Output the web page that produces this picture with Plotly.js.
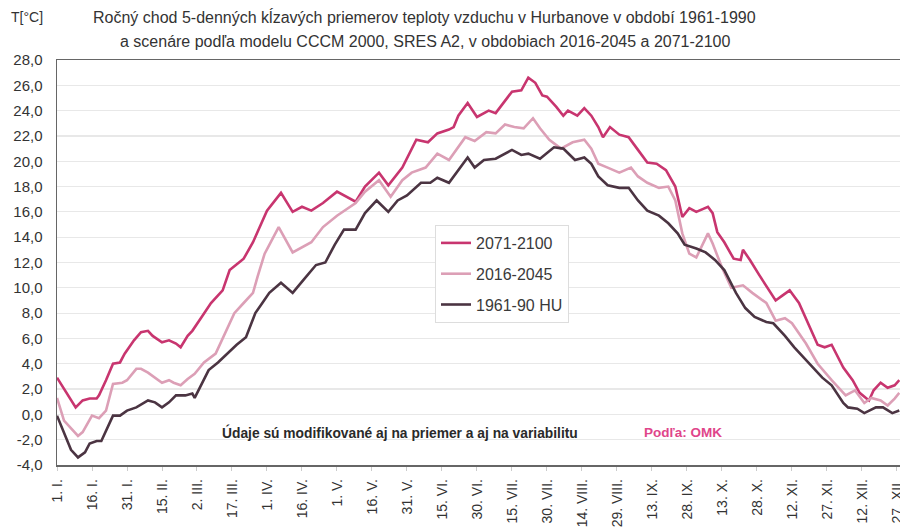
<!DOCTYPE html>
<html>
<head>
<meta charset="utf-8">
<script src="https://cdn.plot.ly/plotly-3.0.1.min.js"></script>
<style>html,body{margin:0;padding:0;background:#fff;}#chart{width:900px;height:530px;}</style>
</head>
<body>
<div id="chart"></div>
<script>
// ---- Data ----
const seriesNames = ["2071-2100", "2016-2045", "1961-90 HU"];

const daysA = [1,9,12,15,18,19,22,25,28,30,34,37,40,42,46,49,52,54,57,59,63,67,72,75,79,81,85,88,91,97,102,106,110,115,121,129,133,139,143,149,155,160,164,169,171,173,177,181,186,189,193,196,200,203,206,209,211,215,218,220,224,227,230,233,235,238,242,246,250,254,258,262,266,269,272,275,280,282,284,287,291,294,295,298,302,306,309,312,315,319,323,327,330,333,338,342,345,349,351,354,357,360,362];
const valsA = [2.9,0.55,1.1,1.25,1.25,1.5,2.7,4.0,4.1,4.8,5.85,6.5,6.6,6.2,5.7,5.85,5.6,5.3,6.2,6.6,7.7,8.8,9.8,11.4,12.0,12.3,13.6,14.8,16.1,17.5,16.0,16.4,16.1,16.7,17.6,16.8,18.0,19.1,18.1,19.5,21.7,21.5,22.2,22.5,22.7,23.6,24.6,23.5,24.0,23.8,24.8,25.5,25.6,26.6,26.2,25.2,25.1,24.3,23.6,24.0,23.6,24.2,23.6,22.7,21.9,22.7,22.1,21.9,20.9,19.9,19.8,19.3,18.0,15.6,16.3,16.0,16.4,15.9,14.4,13.6,12.3,12.2,13.0,12.2,11.0,9.8,9.0,9.4,9.8,8.8,7.2,5.5,5.3,5.5,3.7,2.7,1.7,1.1,1.9,2.5,2.1,2.3,2.7];

const daysB = [1,4,10,12,16,19,22,25,29,31,35,37,40,43,46,49,51,54,57,60,64,69,73,77,81,85,87,90,92,96,102,106,110,115,121,129,133,139,144,149,153,159,164,169,176,180,185,189,193,197,201,205,208,212,217,222,227,230,233,237,242,247,250,254,259,263,266,269,272,275,280,282,286,290,295,299,305,309,313,316,322,327,333,339,343,347,350,354,357,360,362];
const valsB = [1.3,-0.5,-1.7,-1.4,-0.1,-0.3,0.3,2.4,2.5,2.7,3.6,3.6,3.3,2.9,2.5,2.7,2.5,2.3,2.8,3.2,4.1,4.8,6.4,8.0,8.8,9.6,10.9,12.7,13.4,14.8,12.8,13.2,13.6,14.8,15.7,16.7,17.6,18.5,17.2,18.5,19.1,19.5,20.6,20.1,21.9,21.6,22.3,22.2,22.9,22.7,22.6,23.4,22.6,21.7,21.0,21.5,21.7,21.0,19.8,19.5,19.1,19.5,18.8,18.3,17.9,18.0,16.9,14.3,12.7,12.4,14.3,13.5,11.6,10.0,10.2,9.6,8.8,7.4,7.6,7.2,5.6,4.0,2.7,1.5,1.9,0.9,1.3,1.1,0.7,1.25,1.7];

const daysC = [1,4,7,10,13,15,18,20,22,25,28,31,35,40,43,46,49,52,56,59,60,63,66,70,74,78,82,86,89,92,97,102,107,112,116,120,124,129,133,138,143,147,151,157,161,164,169,177,180,184,189,196,200,203,208,214,218,223,227,230,233,237,242,246,250,254,259,263,267,270,275,279,283,287,292,296,300,305,308,313,317,323,329,333,338,340,344,347,352,355,359,362];
const valsC = [-0.1,-1.5,-2.8,-3.4,-3.0,-2.3,-2.1,-2.1,-1.3,-0.1,-0.1,0.3,0.55,1.1,0.95,0.55,0.95,1.5,1.5,1.65,1.3,2.4,3.5,4.1,4.8,5.5,6.1,8.0,8.8,9.6,10.4,9.6,10.7,11.8,12.0,13.4,14.6,14.6,15.9,16.9,16.0,16.9,17.3,18.3,18.3,18.7,18.3,20.3,19.5,20.1,20.2,20.9,20.5,20.6,20.2,21.1,21.0,20.1,20.3,19.8,18.8,18.1,17.9,17.9,16.9,16.1,15.7,15.1,14.3,13.4,13.1,12.8,12.2,11.4,9.6,8.4,7.7,7.3,7.2,6.2,5.3,4.1,2.9,2.3,0.9,0.55,0.45,0.1,0.55,0.55,0.1,0.3];

const xTickDays = [1,16,31,46,61,76,91,106,121,136,151,166,181,196,211,226,241,256,271,286,301,316,331,346,361];
const xTickLabels = ["1. I.","16. I.","31. I.","15. II.","2. III.","17. III.","1. IV.","16. IV.","1. V.","16. V.","31. V.","15. VI.","30. VI.","15. VII.","30. VII.","14. VIII.","29. VIII.","13. IX.","28. IX.","13. X.","28. X.","12. XI.","27. XI.","12. XII.","27. XII."];
const yTickVals = [-4,-2,0,2,4,6,8,10,12,14,16,18,20,22,24,26,28];
const yTickLabels = ["-4,0","-2,0","0,0","2,0","4,0","6,0","8,0","10,0","12,0","14,0","16,0","18,0","20,0","22,0","24,0","26,0","28,0"];

const colors = ["#c8356f", "#dc9fb6", "#4b3442"];

// ---- Chart ----
const FONT = "Liberation Sans, Arial, sans-serif";
const traces = [
  {x: daysA, y: valsA, name: seriesNames[0], legendgroup: "a"},
  {x: daysB, y: valsB, name: seriesNames[1], legendgroup: "b"},
  {x: daysC, y: valsC, name: seriesNames[2], legendgroup: "c"}
].map((t, i) => Object.assign(t, {
  type: "scatter", mode: "lines",
  line: {color: colors[i], width: 2.6, shape: "linear"},
  hoverinfo: "skip"
}));

// pixel helpers for annotation placement (plot area: x 57..900, y 60..465)
const px = v => (v - 57) / 843;
const py = v => (465 - v) / 405;

const layout = {
  width: 900, height: 530,
  margin: {l: 57, r: 0, t: 60, b: 65, pad: 0},
  paper_bgcolor: "#ffffff", plot_bgcolor: "#ffffff",
  font: {family: FONT, color: "#333333", size: 14},
  showlegend: true,
  legend: {
    x: px(435), y: py(225), xanchor: "left", yanchor: "top",
    bgcolor: "#ffffff", bordercolor: "#dddddd", borderwidth: 1,
    font: {family: FONT, size: 16, color: "#3a3a3a"},
    tracegroupgap: 7, itemwidth: 30
  },
  xaxis: {
    range: [1, 362.3], fixedrange: true,
    tickmode: "array", tickvals: xTickDays, ticktext: xTickLabels,
    tickangle: -90, ticks: "outside", ticklen: 4, tickcolor: "#cccccc",
    tickfont: {family: FONT, size: 14, color: "#333333"},
    ticklabelstandoff: 3, ticklabeloverflow: "allow",
    showgrid: false, zeroline: false,
    showline: true, linecolor: "#666666", linewidth: 1.5, mirror: true
  },
  yaxis: {
    range: [-4, 28], fixedrange: true,
    tickmode: "array", tickvals: yTickVals, ticktext: yTickLabels,
    ticks: "", tickfont: {family: FONT, size: 15, color: "#333333"},
    ticklabelstandoff: 10,
    showgrid: true, gridcolor: "#e8e8e8", gridwidth: 1.2,
    zeroline: false, showline: true, linecolor: "#666666", linewidth: 1.5
  },
  annotations: [
    {text: "T[°C]", xref: "paper", yref: "paper", x: px(9), y: py(17), xanchor: "left", yanchor: "middle", showarrow: false, font: {family: FONT, size: 14, color: "#333333"}},
    {text: "Ročný chod 5-denných kĺzavých priemerov teploty vzduchu v Hurbanove v období 1961-1990", xref: "paper", yref: "paper", x: px(424), y: py(17), xanchor: "center", yanchor: "middle", showarrow: false, font: {family: FONT, size: 16, color: "#333333"}},
    {text: "a scenáre podľa modelu CCCM 2000, SRES A2, v obdobiach 2016-2045 a 2071-2100", xref: "paper", yref: "paper", x: px(425), y: py(42), xanchor: "center", yanchor: "middle", showarrow: false, font: {family: FONT, size: 16, color: "#333333"}},
    {text: "<b>Údaje sú modifikované aj na priemer a aj na variabilitu</b>", xref: "paper", yref: "paper", x: px(400), y: py(432), xanchor: "center", yanchor: "middle", showarrow: false, font: {family: FONT, size: 13.8, color: "#2a2a2a"}},
    {text: "<b>Podľa: OMK</b>", xref: "paper", yref: "paper", x: px(683), y: py(432), xanchor: "center", yanchor: "middle", showarrow: false, font: {family: FONT, size: 13.5, color: "#e0458a"}}
  ]
};

Plotly.newPlot("chart", traces, layout, {staticPlot: true, displayModeBar: false});
</script>
</body>
</html>
